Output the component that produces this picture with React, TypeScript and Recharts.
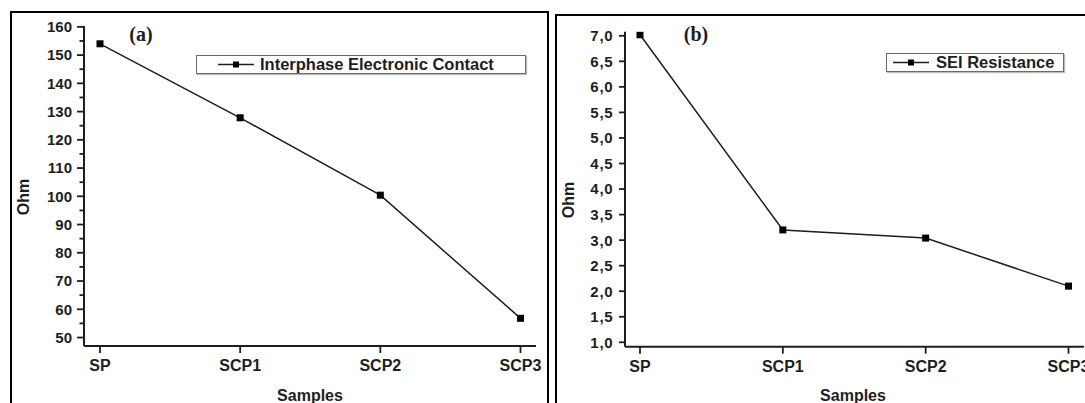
import React from "react"
import { LineChart, Line, XAxis, YAxis, Legend } from "recharts"

const samples = ["SP", "SCP1", "SCP2", "SCP3"]
const contactOhm = [154, 127.8, 100.4, 56.8]
const seiOhm = [7.02, 3.2, 3.04, 2.1]

const ohmTicksA = [50, 55, 60, 65, 70, 75, 80, 85, 90, 95, 100, 105, 110, 115, 120, 125, 130, 135, 140, 145, 150, 155, 160]
const ohmTicksB = [1.0, 1.5, 2.0, 2.5, 3.0, 3.5, 4.0, 4.5, 5.0, 5.5, 6.0, 6.5, 7.0]

const FONT = "'Liberation Sans', Arial, Helvetica, sans-serif"
const SERIF = "'Liberation Serif', 'Times New Roman', serif"
const INK = "#1e1e1e"

const dataA = samples.map((s, i) => ({ sample: s, ohm: contactOhm[i] }))
const dataB = samples.map((s, i) => ({ sample: s, ohm: seiOhm[i] }))

function SquareDot(props: any) {
  const { cx, cy } = props
  if (cx == null || cy == null) return null
  return <rect x={cx - 3.5} y={cy - 3.5} width={7} height={7} fill="#000" />
}

// y ticks drawn by hand so the minor (unlabelled) ones can be shorter
function makeYTick(margin: number, majorLen: number, minorLen: number, isMajor: (v: number) => boolean, fmt: (v: number) => string, spacing = 0) {
  return (props: any) => {
    const { x, y, payload } = props
    const axisX = x + margin
    const major = isMajor(payload.value)
    return (
      <g>
        <line x1={axisX - (major ? majorLen : minorLen)} x2={axisX} y1={y} y2={y} stroke={INK} strokeWidth={1.8} />
        {major && (
          <text x={x} y={y} dy="0.36em" textAnchor="end" fill={INK} fontFamily={FONT} fontWeight="bold" fontSize={15} letterSpacing={spacing}>
            {fmt(payload.value)}
          </text>
        )}
      </g>
    )
  }
}

const tickA = makeYTick(12, 7, 4.5, (v) => v % 10 === 0, (v) => String(v))
const tickB = makeYTick(11.5, 6, 0, () => true, (v) => v.toFixed(1).replace(".", ","), 0.8)

function LegendBox({ width, symbolLeft, textLeft }: { width: number; symbolLeft: number; textLeft: number }) {
  return (props: any) => {
    const item = props.payload && props.payload[0]
    return (
      <div style={{ position: "relative", width, height: 19, border: "1.5px solid #6a6a6a", boxShadow: "1px 1px 1px #bbb", background: "#fff", boxSizing: "border-box" }}>
        <svg style={{ position: "absolute", left: symbolLeft, top: 0 }} width={38} height={17}>
          <line x1={0} x2={36} y1={8.5} y2={8.5} stroke={INK} strokeWidth={1.6} />
          <rect x={15} y={5.5} width={6} height={6} fill="#000" />
        </svg>
        <span style={{ position: "absolute", left: textLeft, top: 0, lineHeight: "17px", fontFamily: FONT, fontWeight: "bold", fontSize: 16.5, color: INK, whiteSpace: "nowrap" }}>
          {item ? item.value : ""}
        </span>
      </div>
    )
  }
}

const legendA = LegendBox({ width: 330, symbolLeft: 21, textLeft: 63 })
const legendB = LegendBox({ width: 178, symbolLeft: 6, textLeft: 49 })

const xTick = { fill: INK, fontSize: 16, fontWeight: "bold", fontFamily: FONT }

const abs = (left: number, top: number): React.CSSProperties => ({ position: "absolute", left, top })

function Title({ left, top, text, rotate, font = FONT, size = 16 }: { left: number; top: number; text: string; rotate?: boolean; font?: string; size?: number }) {
  return (
    <div
      style={{
        ...abs(left, top),
        transform: `translate(-50%, -50%)${rotate ? " rotate(-90deg)" : ""}`,
        fontFamily: font,
        fontWeight: "bold",
        fontSize: size,
        color: INK,
        lineHeight: 1,
        whiteSpace: "nowrap",
      }}
    >
      {text}
    </div>
  )
}

export default function App() {
  return (
    <div style={{ position: "absolute", left: 0, top: 0, width: 1085, height: 403, overflow: "hidden", background: "#fff" }}>
      {/* panel frames */}
      <div style={{ ...abs(10, 11), width: 539, height: 420, border: "2px solid #000", boxSizing: "border-box" }} />
      <div style={{ ...abs(555, 14), width: 560, height: 420, border: "2px solid #000", boxSizing: "border-box" }} />

      <div style={abs(0, 0)}>
        <LineChart width={548} height={403} data={dataA} margin={{ top: 26, right: 12, bottom: 27, left: 24 }}>
          <XAxis
            dataKey="sample"
            interval={0}
            padding={{ left: 16, right: 15.5 }}
            height={30}
            tickSize={7}
            tickMargin={7}
            axisLine={{ stroke: INK, strokeWidth: 2 }}
            tickLine={{ stroke: INK, strokeWidth: 1.8 }}
            tick={xTick}
          />
          <YAxis
            type="number"
            domain={[47, 160.3]}
            allowDataOverflow
            ticks={ohmTicksA}
            interval={0}
            width={60}
            tickSize={0}
            tickMargin={12}
            tickLine={false}
            axisLine={{ stroke: INK, strokeWidth: 2 }}
            tick={tickA}
          />
          <Legend layout="vertical" align="center" verticalAlign="middle" content={legendA} wrapperStyle={{ left: 196, top: 55, width: 330, height: 19 }} />
          <Line
            type="linear"
            dataKey="ohm"
            name="Interphase Electronic Contact"
            stroke={INK}
            strokeWidth={1.5}
            dot={<SquareDot />}
            activeDot={false}
            isAnimationActive={false}
          />
        </LineChart>
      </div>

      <div style={abs(557, 0)}>
        <LineChart width={545} height={403} data={dataB} margin={{ top: 31.7, right: 18, bottom: 26.3, left: 8 }}>
          <XAxis
            dataKey="sample"
            interval={0}
            padding={{ left: 15, right: 15.5 }}
            height={30}
            tickSize={7}
            tickMargin={7}
            axisLine={{ stroke: INK, strokeWidth: 2 }}
            tickLine={{ stroke: INK, strokeWidth: 1.8 }}
            tick={xTick}
          />
          <YAxis
            type="number"
            domain={[0.914, 7.08]}
            allowDataOverflow
            ticks={ohmTicksB}
            interval={0}
            width={60}
            tickSize={0}
            tickMargin={11.5}
            tickLine={false}
            axisLine={{ stroke: INK, strokeWidth: 2 }}
            tick={tickB}
          />
          <Legend layout="vertical" align="center" verticalAlign="middle" content={legendB} wrapperStyle={{ left: 329, top: 52.5, width: 178, height: 19 }} />
          <Line
            type="linear"
            dataKey="ohm"
            name="SEI Resistance"
            stroke={INK}
            strokeWidth={1.5}
            dot={<SquareDot />}
            activeDot={false}
            isAnimationActive={false}
          />
        </LineChart>
      </div>

      <Title left={141} top={34} text="(a)" font={SERIF} size={20} />
      <Title left={24} top={197} text="Ohm" rotate />
      <Title left={310} top={396} text="Samples" />

      <Title left={696} top={34} text="(b)" font={SERIF} size={20} />
      <Title left={569} top={200} text="Ohm" rotate />
      <Title left={853} top={396} text="Samples" />
    </div>
  )
}
